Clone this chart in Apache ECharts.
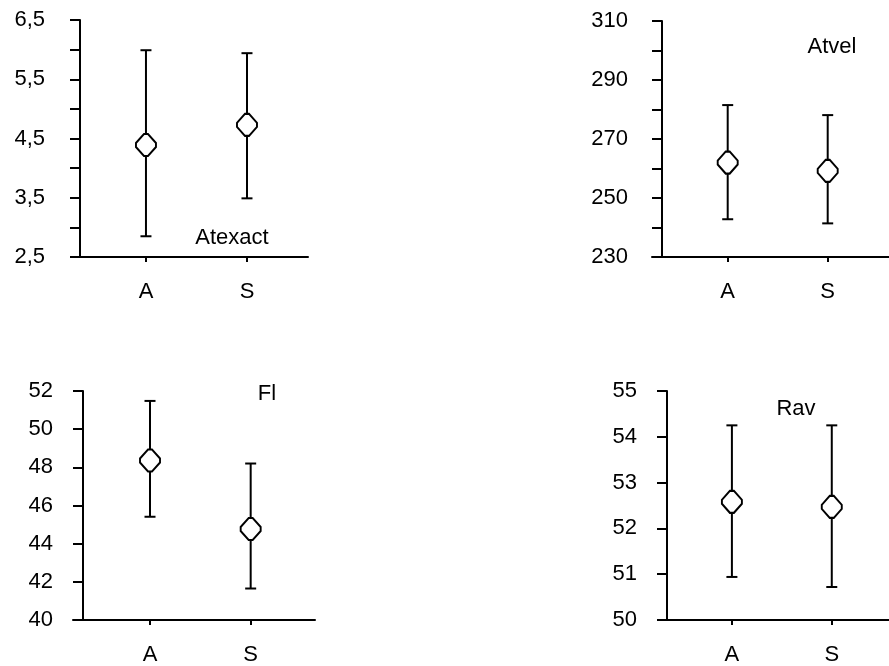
<!DOCTYPE html>
<html>
<head>
<meta charset="utf-8">
<script src="https://cdn.jsdelivr.net/npm/echarts@6/dist/echarts.min.js"></script>
<style>html,body{margin:0;padding:0;background:#fff}#c{width:889px;height:666px}</style>
</head>
<body>
<div id="c"></div>
<script>
// ---- data ----
const categories = ['A', 'S'];

const atexactMean = [4.39, 4.73];
const atexactLow  = [2.85, 3.49];
const atexactHigh = [5.99, 5.94];

const atvelMean = [262.0, 259.2];
const atvelLow  = [242.8, 241.4];
const atvelHigh = [281.5, 278.1];

const flMean = [48.36, 44.77];
const flLow  = [45.41, 41.65];
const flHigh = [51.48, 48.2];

const ravMean = [52.58, 52.47];
const ravLow  = [50.94, 50.72];
const ravHigh = [54.25, 54.25];

const atexactTicks  = [2.5, 3.0, 3.5, 4.0, 4.5, 5.0, 5.5, 6.0, 6.5];
const atexactLabels = [2.5, 3.5, 4.5, 5.5, 6.5];
const atvelTicks  = [230, 240, 250, 260, 270, 280, 290, 300, 310];
const atvelLabels = [230, 250, 270, 290, 310];
const flTicks  = [40, 42, 44, 46, 48, 50, 52];
const flLabels = [40, 42, 44, 46, 48, 50, 52];
const ravTicks  = [50, 51, 52, 53, 54, 55];
const ravLabels = [50, 51, 52, 53, 54, 55];

const panelTitles = ['Atexact', 'Atvel', 'Fl', 'Rav'];

// ---- layout ----
const panels = [
  {grid:{left:80, top:20, width:228, height:237}, yOff:0, xMin:-0.653, xMax:1.604, yMin:2.5, yMax:6.5,
   ticks:atexactTicks, labels:atexactLabels, mean:atexactMean, lo:atexactLow, hi:atexactHigh, margin:35,
   title:{x:232, y:238}},
  {grid:{left:652, top:21, width:237, height:236}, yOff:-10, xMin:-0.757, xMax:1.613, yMin:230, yMax:310,
   ticks:atvelTicks, labels:atvelLabels, mean:atvelMean, lo:atvelLow, hi:atvelHigh, margin:34,
   title:{x:832, y:47}},
  {grid:{left:73, top:391, width:242, height:231}, yOff:-10, xMin:-0.765, xMax:1.639, yMin:40, yMax:52,
   ticks:flTicks, labels:flLabels, mean:flMean, lo:flLow, hi:flHigh, margin:30,
   title:{x:267, y:394}},
  {grid:{left:658, top:391, width:231, height:231}, yOff:-9, xMin:-0.74, xMax:1.573, yMin:50, yMax:55,
   ticks:ravTicks, labels:ravLabels, mean:ravMean, lo:ravLow, hi:ravHigh, margin:30,
   title:{x:796, y:409}}
];

const FONT = 'Liberation Sans';
const FS = 22;
const MARKER = 'path://M8,0 L12,0 L20,9 L20,13 L12,22 L8,22 L0,13 L0,9 Z';

const grids = [], xAxes = [], yAxes = [], series = [], graphics = [];

panels.forEach((p, i) => {
  grids.push(Object.assign({containLabel:false}, p.grid));
  xAxes.push({
    type:'value', gridIndex:i, min:p.xMin, max:p.xMax,
    axisLine:{show:true, onZero:false, lineStyle:{color:'#000', width:2}},
    axisTick:{show:true, length:5, lineStyle:{color:'#000', width:2}, customValues:[0,1]},
    axisLabel:{show:true, margin:24, color:'#000', fontFamily:FONT, fontSize:FS,
      customValues:[0,1], formatter:v => categories[Math.round(v)]},
    splitLine:{show:false}
  });
  yAxes.push({
    type:'value', gridIndex:i, min:p.yMin, max:p.yMax, offset:p.yOff,
    axisLine:{show:true, onZero:false, lineStyle:{color:'#000', width:2}},
    axisTick:{show:true, length:10, lineStyle:{color:'#000', width:2}, customValues:p.ticks},
    axisLabel:{show:true, margin:p.margin, color:'#000', fontFamily:FONT, fontSize:FS,
      customValues:p.labels, formatter:v => String(v % 1 === 0 ? v : v.toFixed(1)).replace('.', ',')},
    splitLine:{show:false}
  });
  const barData = categories.map((c, k) => [k, p.lo[k], p.hi[k]]);
  series.push({
    type:'custom', xAxisIndex:i, yAxisIndex:i, data:barData, z:2,
    renderItem:(params, api) => {
      const x = api.value(0);
      const lo = api.coord([x, api.value(1)]);
      const hi = api.coord([x, api.value(2)]);
      const st = {stroke:'#000', lineWidth:2};
      return {type:'group', children:[
        {type:'line', shape:{x1:lo[0], y1:lo[1], x2:hi[0], y2:hi[1]}, style:st},
        {type:'line', shape:{x1:lo[0]-5.5, y1:lo[1], x2:lo[0]+5.5, y2:lo[1]}, style:st},
        {type:'line', shape:{x1:hi[0]-5.5, y1:hi[1], x2:hi[0]+5.5, y2:hi[1]}, style:st}
      ]};
    }
  });
  series.push({
    type:'scatter', xAxisIndex:i, yAxisIndex:i, z:5,
    data:categories.map((c, k) => [k, p.mean[k]]),
    symbol:MARKER, symbolSize:[20,22],
    itemStyle:{color:'#fff', borderColor:'#000', borderWidth:2, opacity:1}
  });
  graphics.push({
    type:'text', x:p.title.x, y:p.title.y,
    style:{text:panelTitles[i], fill:'#000', font:FS + 'px "' + FONT + '"', align:'center', verticalAlign:'middle'}
  });
});

const chart = echarts.init(document.getElementById('c'), null, {renderer:'canvas'});
chart.setOption({
  animation:false,
  backgroundColor:'#fff',
  grid:grids, xAxis:xAxes, yAxis:yAxes, series:series, graphic:graphics
});
</script>
</body>
</html>
